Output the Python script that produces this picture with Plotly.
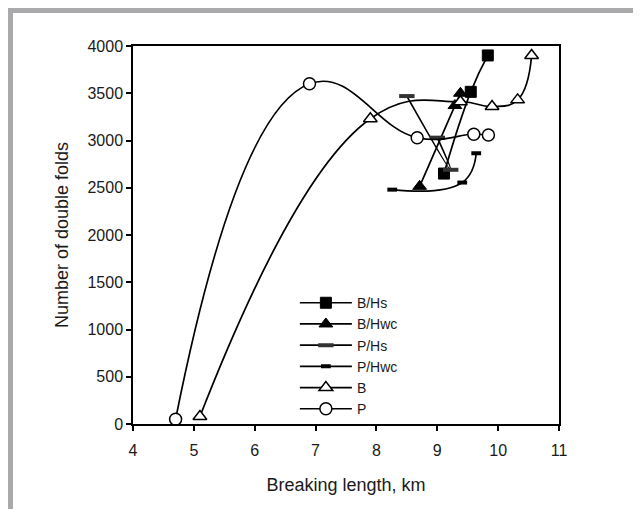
import plotly.graph_objects as go

# ---- data ----
bhs_x = [9.11, 9.55, 9.83]
bhs_y = [2650, 3515, 3900]

bhwc_x = [8.71, 9.29, 9.38]
bhwc_y = [2515, 3370, 3500]

phs_x = [8.50, 9.22, 9.00]
phs_y = [3470, 2690, 3030]

phwc_x = [8.26, 9.41, 9.64]
phwc_y = [2480, 2555, 2865]

b_x = [5.10, 7.90, 9.38, 9.90, 10.32, 10.55]
b_y = [80, 3230, 3410, 3360, 3430, 3900]

p_x = [4.70, 6.90, 8.67, 9.60, 9.84]
p_y = [50, 3600, 3030, 3066, 3058]

x_ticks = [4, 5, 6, 7, 8, 9, 10, 11]
y_ticks = [0, 500, 1000, 1500, 2000, 2500, 3000, 3500, 4000]

FONT = "Liberation Sans, Arial, sans-serif"
TXT = "#1a1a1a"
LINE = dict(color="black", width=1.7, shape="spline", smoothing=1.3)

fig = go.Figure()

fig.add_trace(go.Scatter(
    x=bhs_x, y=bhs_y, name="B/Hs", mode="lines+markers", line=LINE,
    marker=dict(symbol="square", size=11, color="black",
                line=dict(color="black", width=1))))
fig.add_trace(go.Scatter(
    x=bhwc_x, y=bhwc_y, name="B/Hwc", mode="lines+markers", line=LINE,
    marker=dict(symbol="triangle-up", size=12, color="black",
                line=dict(color="black", width=1))))
fig.add_trace(go.Scatter(
    x=phs_x, y=phs_y, name="P/Hs", mode="lines+markers", line=LINE,
    marker=dict(symbol="line-ew", size=11, color="#444444",
                line=dict(color="#333333", width=4))))
fig.add_trace(go.Scatter(
    x=phwc_x, y=phwc_y, name="P/Hwc", mode="lines+markers", line=LINE,
    marker=dict(symbol="line-ew", size=7, color="black",
                line=dict(color="black", width=4))))
fig.add_trace(go.Scatter(
    x=b_x, y=b_y, name="B", mode="lines+markers", line=LINE,
    marker=dict(symbol="triangle-up", size=12, color="white",
                line=dict(color="black", width=1.5))))
fig.add_trace(go.Scatter(
    x=p_x, y=p_y, name="P", mode="lines+markers", line=LINE,
    marker=dict(symbol="circle", size=12, color="white",
                line=dict(color="black", width=1.5))))

# plot area in figure pixels
L, T, W, H = 125, 38, 426, 378
def px(xp):
    return (xp - L) / W
def py(yp):
    return (T + H - yp) / H

# grey frame of the figure (top and left bands)
GREY = "#a9a9ab"
fig.add_shape(type="rect", xref="paper", yref="paper",
              x0=px(0), x1=px(641), y0=py(5), y1=py(0),
              fillcolor=GREY, line=dict(width=0), layer="below")
fig.add_shape(type="rect", xref="paper", yref="paper",
              x0=px(0), x1=px(5), y0=py(520), y1=py(0),
              fillcolor=GREY, line=dict(width=0), layer="below")

fig.update_layout(
    width=641, height=509,
    margin=dict(l=L, r=641 - L - W, t=T, b=509 - T - H),
    paper_bgcolor="white", plot_bgcolor="white",
    font=dict(family=FONT, size=16, color=TXT),
    showlegend=True,
    legend=dict(x=0.38, y=0.362, xanchor="left", yanchor="top",
                bgcolor="rgba(0,0,0,0)", borderwidth=0,
                font=dict(family=FONT, size=14, color=TXT),
                itemwidth=52, tracegroupgap=0),
)

fig.update_xaxes(
    range=[4, 11], tickvals=x_ticks, ticktext=[str(v) for v in x_ticks],
    showgrid=False, zeroline=False,
    showline=True, linecolor="black", linewidth=1.5, mirror=True,
    ticks="outside", ticklen=5, tickwidth=1.5, tickcolor="black",
    ticklabelstandoff=6,
    tickfont=dict(family=FONT, size=16, color=TXT),
    title=dict(text="Breaking length, km", standoff=20,
               font=dict(family=FONT, size=18, color=TXT)),
)
fig.update_yaxes(
    range=[0, 4000], tickvals=y_ticks, ticktext=[str(v) for v in y_ticks],
    showgrid=False, zeroline=False,
    showline=True, linecolor="black", linewidth=1.5, mirror=True,
    ticks="outside", ticklen=5, tickwidth=1.5, tickcolor="black",
    tickfont=dict(family=FONT, size=16, color=TXT),
    title=dict(text="Number of double folds", standoff=14,
               font=dict(family=FONT, size=18, color=TXT)),
)

fig.write_html("out.html")
